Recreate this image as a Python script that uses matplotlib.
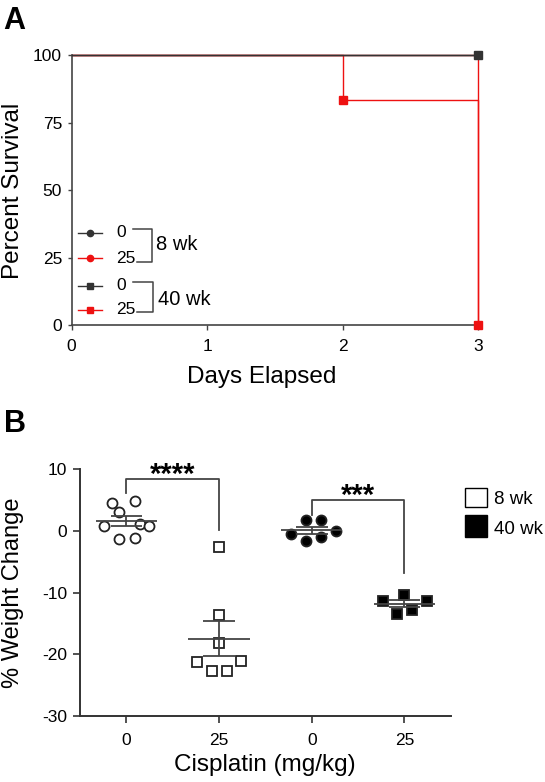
import numpy as np
import matplotlib
matplotlib.use('Agg')
import matplotlib.pyplot as plt
from matplotlib.lines import Line2D
from matplotlib.patches import Rectangle

plt.rcParams['font.family'] = ['Liberation Sans', 'DejaVu Sans']
plt.rcParams['axes.unicode_minus'] = False

# ---------------- Data ----------------
# Panel A: Kaplan-Meier survival (days, percent survival)
days_8wk_0 = [0, 3]
surv_8wk_0 = [100, 100]
days_8wk_25 = [0, 3]
surv_8wk_25 = [100, 0]
days_40wk_0 = [0, 3]
surv_40wk_0 = [100, 100]
days_40wk_25 = [0, 2, 3]
surv_40wk_25 = [100, 83.33, 0]
a_xticks = [0, 1, 2, 3]
a_yticks = [0, 25, 50, 75, 100]

# Panel B: % weight change
b_categories = ['0', '25', '0', '25']
wc_8wk_0 = [4.59, 4.86, 3.03, 0.81, 1.13, 0.81, -1.30, -1.19]
wc_8wk_25 = [-2.54, -13.6, -18.2, -21.2, -21.1, -22.7, -22.7]
wc_40wk_0 = [1.78, 1.78, -0.49, 0.05, -1.57, -0.92]
wc_40wk_25 = [-11.3, -10.3, -11.3, -13.46, -12.8]
b_yticks = [-30, -20, -10, 0, 10]
sig_labels = ['****', '***']

# horizontal scatter offsets of the points (positions)
jit_8wk_0 = [-0.16, 0.09, -0.08, -0.245, 0.15, 0.24, -0.08, 0.09]
jit_8wk_25 = [0, 0, 0, -0.24, 0.24, -0.08, 0.085]
jit_40wk_0 = [-0.065, 0.097, -0.227, 0.26, -0.065, 0.097]
jit_40wk_25 = [-0.23, 0, 0.24, -0.075, 0.08]

# ---------------- Figure ----------------
W, H = 545, 782
fig = plt.figure(figsize=(W / 100, H / 100), dpi=100)
fig.patch.set_facecolor('white')


def fx(x):
    return x / W


def fy(y):
    return 1 - y / H


BLK = '#333333'
RED = '#ee1111'

# ---------------- Panel A ----------------
axA = fig.add_axes([fx(71.5), fy(325.3), (478 - 71.5) / W, (325.3 - 55) / H])
axA.set_xlim(0, 3)
axA.set_ylim(0, 100)

seriesA = [
    (days_8wk_25, surv_8wk_25, RED, 'o', 2),
    (days_40wk_25, surv_40wk_25, RED, 's', 2),
    (days_8wk_0, surv_8wk_0, BLK, 'o', 3),
    (days_40wk_0, surv_40wk_0, BLK, 's', 3),
]
for d, s, c, m, z in seriesA:
    axA.step(d, s, where='post', color=c, lw=1.0, clip_on=False, zorder=z)
for d, s, c, m, z in seriesA:
    axA.plot(d[1:], s[1:], ls='none', marker=m, ms=5.5, color=c,
             mec=c, clip_on=False, zorder=z + 3)

for sp in ['top', 'right']:
    axA.spines[sp].set_visible(False)
for sp in ['left', 'bottom']:
    axA.spines[sp].set_color('#444444')
    axA.spines[sp].set_linewidth(1.2)
axA.set_xticks(a_xticks)
axA.set_yticks(a_yticks)
axA.set_xticklabels([str(t) for t in a_xticks])
axA.set_yticklabels([str(t) for t in a_yticks])
axA.tick_params(axis='x', length=3.5, width=1.0, pad=6.5, labelsize=12.5, color='#444444')
axA.tick_params(axis='y', length=3.2, width=1.0, pad=3.6, labelsize=12.5, color='#444444')

# Legend A (manual)
leg_rows = [(232.7, BLK, 'o', '0'), (258.3, RED, 'o', '25'),
            (285.5, BLK, 's', '0'), (309.8, RED, 's', '25')]
for yy, c, m, lab in leg_rows:
    fig.add_artist(Line2D([fx(78), fx(101.7)], [fy(yy), fy(yy)], color=c, lw=1.0,
                          transform=fig.transFigure))
    fig.add_artist(Line2D([fx(90)], [fy(yy)], marker=m, ms=4.5, color=c, mec=c,
                          transform=fig.transFigure))
    fig.text(fx(116), fy(yy), lab, fontsize=12.5, ha='left', va='center')

for (y1, y2, xs1, xs2, xv) in [(228.5, 261.7, 132.7, 136.7, 151.7),
                               (282.0, 311.7, 132.7, 136.7, 153.3)]:
    fig.add_artist(Line2D([fx(xs1), fx(xv), fx(xv), fx(xs2)],
                          [fy(y1), fy(y1), fy(y2), fy(y2)], color='#444444', lw=1.1,
                          transform=fig.transFigure))
fig.text(fx(156.5), fy(245), '8 wk', fontsize=14.5, ha='left', va='center')
fig.text(fx(157.5), fy(299.3), '40 wk', fontsize=14.5, ha='left', va='center')

fig.text(fx(262), fy(377), 'Days Elapsed', fontsize=17.5, ha='center', va='center')
fig.text(fx(13), fy(191), 'Percent Survival', fontsize=17.5, ha='center', va='center',
         rotation=90)
fig.text(fx(3), fy(21), 'A', fontsize=22, fontweight='bold', ha='left', va='center')

# ---------------- Panel B ----------------
axB = fig.add_axes([fx(80), fy(716), (450.8 - 80) / W, (716 - 469.3) / H])
axB.set_xlim(-0.5, 3.5)
axB.set_ylim(-30, 10)

groupsB = [
    (0, wc_8wk_0, jit_8wk_0, 'o', 'white', 7.2),
    (1, wc_8wk_25, jit_8wk_25, 's', 'white', 6.6),
    (2, wc_40wk_0, jit_40wk_0, 'o', 'black', 7.2),
    (3, wc_40wk_25, jit_40wk_25, 's', 'black', 6.8),
]
GR = '#444444'
for c, vals, jit, m, fc, ms in groupsB:
    v = np.asarray(vals)
    xs = c + np.asarray(jit)
    axB.plot(xs, v, ls='none', marker=m, ms=ms, mfc=fc, mec='#222222', mew=1.3,
             zorder=3, clip_on=False)
    mean = v.mean()
    sem = v.std(ddof=1) / np.sqrt(len(v))
    axB.hlines(mean, c - 0.33, c + 0.33, color=GR, lw=1.3, zorder=4)
    axB.hlines([mean - sem, mean + sem], c - 0.17, c + 0.17, color=GR, lw=1.3, zorder=4)
    axB.vlines(c, mean - sem, mean + sem, color=GR, lw=1.3, zorder=4)

# significance brackets: (x1, x2, top, left end, right end)
brackets = [(0, 1, 8.5, 6.2, 0.1), (2, 3, 5.0, 2.6, -6.8)]
for (x1, x2, top, l, r), lab in zip(brackets, sig_labels):
    axB.plot([x1, x1, x2, x2], [l, top, top, r], color=GR, lw=1.3, clip_on=False)
    axB.annotate(lab, xy=((x1 + x2) / 2, top), xytext=(0, -3),
                 textcoords='offset points', ha='center', va='baseline',
                 fontsize=21, fontweight='bold', annotation_clip=False)

for sp in ['top', 'right']:
    axB.spines[sp].set_visible(False)
for sp in ['left', 'bottom']:
    axB.spines[sp].set_color('#333333')
    axB.spines[sp].set_linewidth(1.4)
axB.set_xticks(range(len(b_categories)))
axB.set_xticklabels(b_categories)
axB.set_yticks(b_yticks)
axB.set_yticklabels([str(t) for t in b_yticks])
axB.tick_params(axis='x', length=4.8, width=1.2, pad=7.5, labelsize=12.5, color='#333333')
axB.tick_params(axis='y', length=4.8, width=1.2, pad=4.5, labelsize=12.5, color='#333333')

# Legend B
fig.add_artist(Rectangle((fx(465), fy(506.7)), (486.7 - 465) / W, (506.7 - 488.3) / H,
                         transform=fig.transFigure, facecolor='white', edgecolor='black',
                         lw=1.0))
fig.add_artist(Rectangle((fx(465), fy(536.7)), (486.7 - 465) / W, (536.7 - 515) / H,
                         transform=fig.transFigure, facecolor='black', edgecolor='black',
                         lw=1.0))
fig.text(fx(494), fy(499), '8 wk', fontsize=13.5, ha='left', va='center')
fig.text(fx(494), fy(529), '40 wk', fontsize=13.5, ha='left', va='center')

fig.text(fx(265), fy(765), 'Cisplatin (mg/kg)', fontsize=17.5, ha='center', va='center')
fig.text(fx(13), fy(593), '% Weight Change', fontsize=17, ha='center', va='center',
         rotation=90)
fig.text(fx(4), fy(424), 'B', fontsize=22, fontweight='bold', ha='left', va='center')

fig.savefig('out.png', dpi=100, facecolor='white')
